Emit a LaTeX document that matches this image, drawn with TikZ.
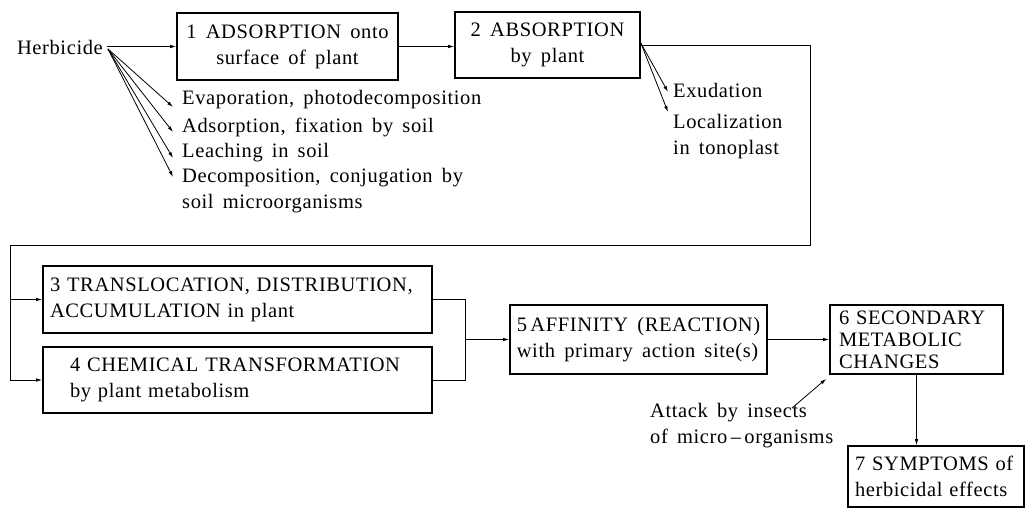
\documentclass[tikz,border=0pt]{standalone}
\usepackage{fontspec}
\usepackage{tikz}
\usetikzlibrary{arrows.meta}
\setmainfont{Liberation Serif}[LetterSpace=3,WordSpace=1.6]

\tikzset{
  box/.style={draw, line width=1.6pt, inner sep=0pt},
  txt/.style={inner sep=0pt, align=left},
  arr/.style={line width=0.8pt, -{Latex[length=6pt,width=3.5pt]}},
  line/.style={line width=0.8pt}
}

\begin{document}
\begin{tikzpicture}[x=1pt, y=-1pt, font=\fontsize{20.5}{26}\selectfont]
      \useasboundingbox (0,0) rectangle (1027,510);
      % main chain of boxes
      \node[box, minimum width=221, minimum height=67, align=center] (b1) at (287.5,46.5)
        {1 ADSORPTION onto\\surface of plant};
      \node[box, minimum width=185, minimum height=66, align=center] (b2) at (547.5,45)
        {2 ABSORPTION\\by plant};
      \node[box, minimum width=389, minimum height=67, text width=375, inner xsep=7, align=left] (b3) at (237.5,299.5)
        {3 TRANSLOCATION, DISTRIBUTION,\\ACCUMULATION in plant};
      \node[box, minimum width=389, minimum height=66, text width=335, inner xsep=27, align=left] (b4) at (237.5,380)
        {4 CHEMICAL TRANSFORMATION\\by plant metabolism};
      \node[box, minimum width=257, minimum height=69, align=left] (b5) at (638.5,339.5)
        {5\,AFFINITY (REACTION)\\with primary action site(s)};
      \node[box, minimum width=173, minimum height=69, text width=155, inner xsep=9, align=left] (b6) at (916.5,339.5)
        {6 SECONDARY\\[-4pt]METABOLIC\\[-4pt]CHANGES};
      \node[box, minimum width=176, minimum height=61, text width=162, inner xsep=7, align=left] (b7) at (936,476.5)
        {7 SYMPTOMS of\\herbicidal effects};

      % side texts
      \node[txt, anchor=east] (herb) at (103,47) {Herbicide};
      \node[txt, anchor=west] (l1) at (182,100) {Evaporation, photodecomposition};
      \node[txt, anchor=west] (l2) at (182,127) {Adsorption, fixation by soil};
      \node[txt, anchor=west] (l3) at (182,153) {Leaching in soil};
      \node[txt, anchor=north west] (l4) at (182,168) {Decomposition, conjugation by\\soil microorganisms};
      \node[txt, anchor=west] (exu) at (673,90) {Exudation};
      \node[txt, anchor=north west] (loc) at (673,114) {Localization\\in tonoplast};
      \node[txt, anchor=north west] (atk) at (650,403) {Attack by insects\\of micro\,--\,organisms};

      \coordinate (hs) at (108,49);
      \coordinate (rt) at (810,245);
      \coordinate (lf) at (10,245);

      % connectors
      \draw[arr] (herb.east |- b1.west) ++(4,0) -- (b1.west);
      \foreach \n/\dy in {l1/7, l2/5, l3/5} {
        \draw[arr] (hs) -- ([xshift=-9pt, yshift=-\dy pt]\n.west);
      }
      \draw[arr] (hs) -- ([xshift=-9pt, yshift=-9pt]l4.north west);
      \draw[arr] (b1.east) -- (b1.east -| b2.west);
      \draw[arr] (b2.east) ++(0,-2) -- ([xshift=-5pt, yshift=-2pt]exu.west);
      \draw[arr] (b2.east) ++(0,-2) -- ([xshift=-5pt, yshift=2pt]loc.north west);
      \draw[line] (b2.east) -| (rt) -- (lf);
      \draw[arr] (lf) |- (b4.west);
      \draw[arr] (lf |- b3.west) -- (b3.west);
      \draw[line] (b3.east) -- ++(33,0) coordinate (m1) |- (b4.east);
      \draw[arr] (m1 |- b5.west) -- (b5.west);
      \draw[arr] (b5.east) -- (b6.west);
      \draw[arr] (b6.south) -- (b6.south |- b7.north);
      \draw[arr] ([xshift=142pt, yshift=-5pt]atk.north west) -- ([xshift=-3pt, yshift=-4pt]b6.south west);
    \end{tikzpicture}
\end{document}
